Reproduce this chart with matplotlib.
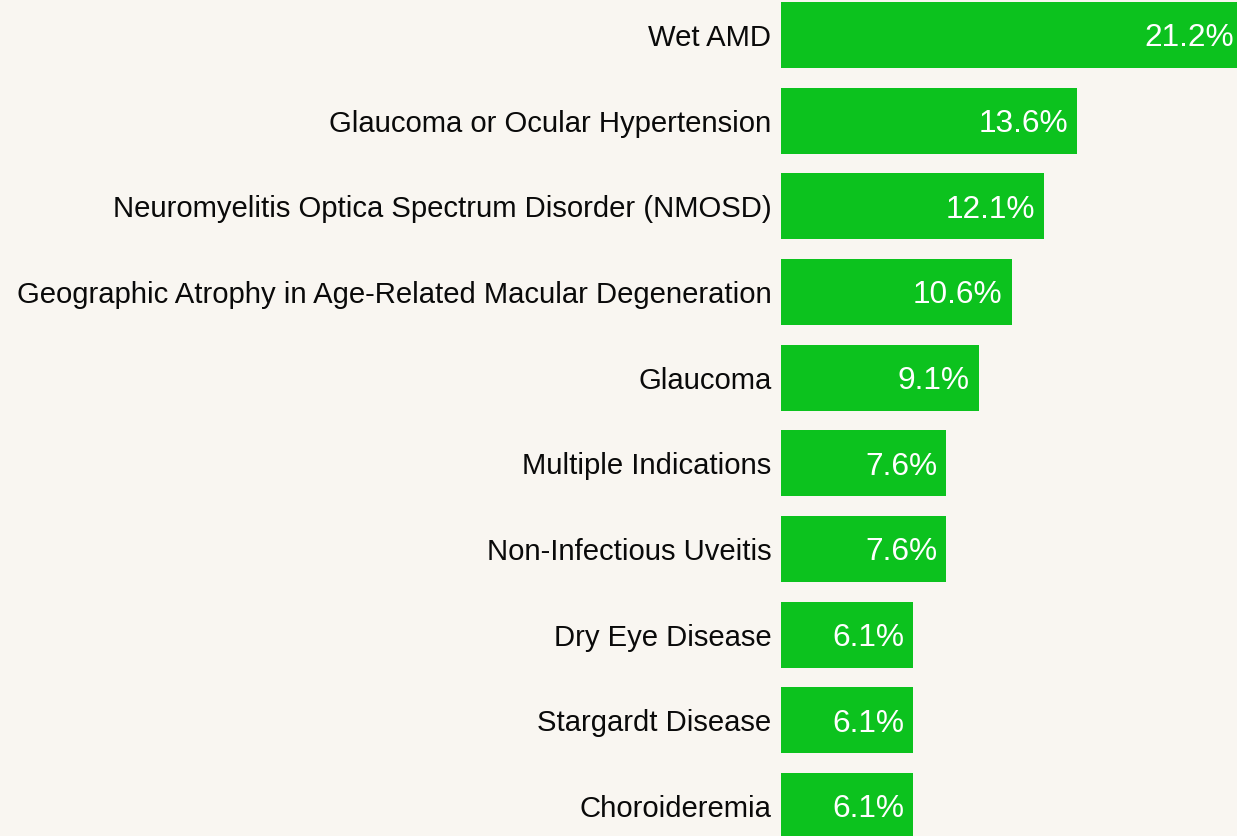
import matplotlib
matplotlib.use("Agg")
import matplotlib.pyplot as plt
from matplotlib import rcParams

rcParams['font.family'] = 'sans-serif'
rcParams['font.sans-serif'] = ['Liberation Sans', 'DejaVu Sans']

# data
indications = ["Wet AMD",
               "Glaucoma or Ocular Hypertension",
               "Neuromyelitis Optica Spectrum Disorder (NMOSD)",
               "Geographic Atrophy in Age-Related Macular Degeneration",
               "Glaucoma",
               "Multiple Indications",
               "Non-Infectious Uveitis",
               "Dry Eye Disease",
               "Stargardt Disease",
               "Choroideremia"]
shares = [21.2, 13.6, 12.1, 10.6, 9.1, 7.6, 7.6, 6.1, 6.1, 6.1]

bg = "#F9F6F1"
green = "#0CC21E"

fig = plt.figure(figsize=(12.37, 8.36), dpi=100, facecolor=bg)
ax = fig.add_axes([780.5 / 1237, 0, (1237 - 780.5) / 1237, 1])
ax.set_facecolor(bg)

pos = range(len(indications))
ax.barh(pos, shares, height=0.77, color=green)

ax.set_xlim(0, (1237 - 780.5) / 21.8)
ax.set_ylim(9.35, -0.4086)

ax.set_yticks(list(pos))
ax.set_yticklabels(indications, fontsize=21.1, color="#0a0a0a")
ax.tick_params(axis="y", length=0, pad=6.5)
ax.set_xticks([])
for s in ax.spines.values():
    s.set_visible(False)

# value labels, digits centred on the bar
for i, v in enumerate(shares):
    ax.annotate("{:.1f}%".format(v), xy=(v, i), xytext=(-6.5, -8.2),
                textcoords="offset points", ha="right", va="baseline",
                color="white", fontsize=22.8, annotation_clip=False)

fig.savefig("out.png", dpi=100, facecolor=bg)
